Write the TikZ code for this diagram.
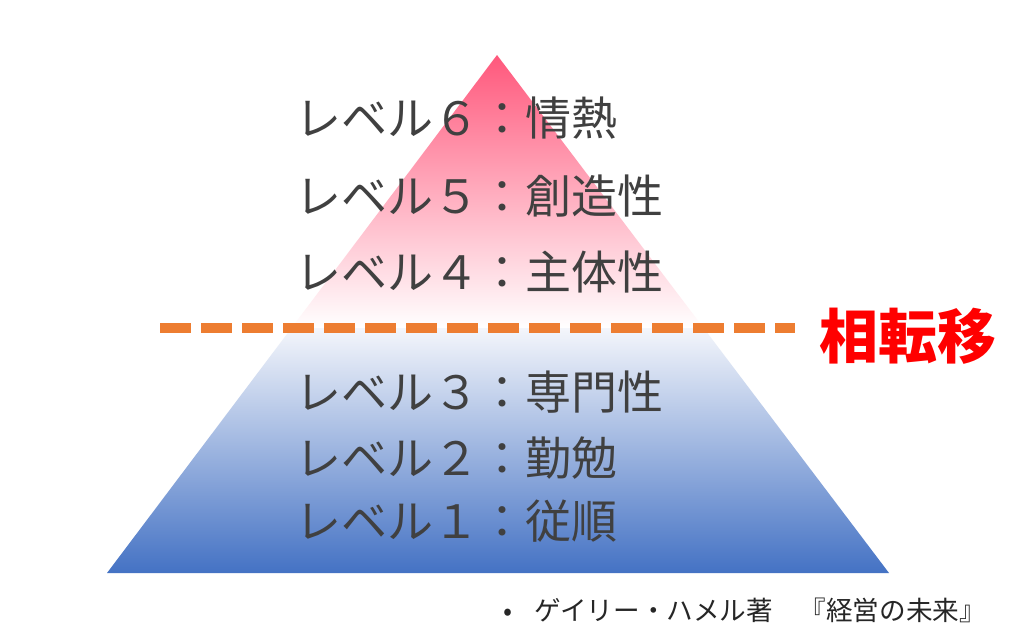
\documentclass[tikz,border=0pt]{standalone}
\usepackage{fontspec}
\newfontfamily\cjk{Noto Sans CJK JP}
\definecolor{pinktop}{RGB}{255,88,124}
\definecolor{bluetop}{RGB}{244,246,251}
\definecolor{bluebottom}{RGB}{68,114,196}
\definecolor{textgray}{RGB}{64,64,64}
\definecolor{dashorange}{RGB}{237,125,49}
\definecolor{shiftred}{RGB}{255,0,0}
\tikzset{
  lvl/.style={anchor=west, inner sep=0pt, text=textgray, font=\cjk\fontsize{46}{46}\selectfont},
  shiftlabel/.style={inner sep=0pt, text=shiftred, font=\cjk\bfseries\fontsize{59}{59}\selectfont},
  note/.style={anchor=west, inner sep=0pt, text=black!85, font=\cjk\fontsize{26.6}{26.6}\selectfont},
  dashline/.style={draw=dashorange, line width=10pt, dash pattern=on 31pt off 10pt}
}
\begin{document}
\begin{tikzpicture}[x=1pt,y=-1pt]
\useasboundingbox (0,0) rectangle (1024,640);
\fill[white] (0,0) rectangle (1024,640);
\coordinate (apex) at (497,55);
\coordinate (bl) at (107,573);
\coordinate (br) at (889,573);
\coordinate (ml) at (291.5,328);
\coordinate (mr) at (703.6,328);
\shade[top color=pinktop, bottom color=white] (apex) -- (ml) -- (mr) -- cycle;
\shade[top color=bluetop, bottom color=bluebottom] (ml) -- (bl) -- (br) -- (mr) -- cycle;
\coordinate (dl) at (160,328);
\coordinate (dr) at (795,328);
\draw[dashline] (dl) -- (dr);
\node[lvl] (l6) at (295,118) {レベル６：情熱};
\node[lvl] (l5) at (295,196) {レベル５：創造性};
\node[lvl] (l4) at (295,272) {レベル４：主体性};
\node[lvl] (l3) at (295,392) {レベル３：専門性};
\node[lvl] (l2) at (295,458) {レベル２：勤勉};
\node[lvl] (l1) at (295,521) {レベル１：従順};
\node[shiftlabel] (shift) at (908,336) {相転移};
\node[note] (src) at (503,610) {•\hspace{22pt}ゲイリー・ハメル著　『経営の未来』};
\end{tikzpicture}
\end{document}
